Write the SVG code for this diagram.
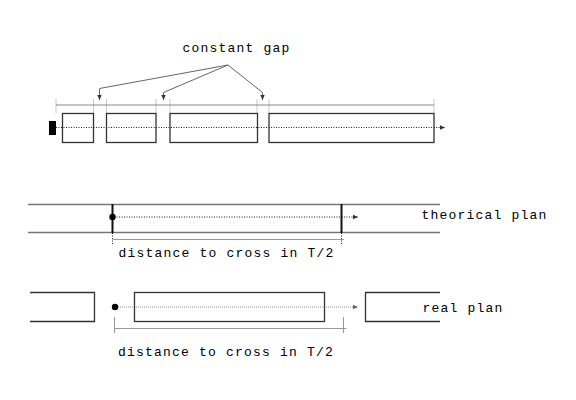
<svg xmlns="http://www.w3.org/2000/svg" width="576" height="400" viewBox="0 0 576 400">
<style>
.txt{font-family:"Liberation Mono","Courier New",monospace;font-size:13px;letter-spacing:1.2px;fill:#000}
.box{fill:none;stroke:#333;stroke-width:1.3}
.tick{stroke:#c8c8c8;stroke-width:1;fill:none}
.rail{stroke:#777;stroke-width:1.3;fill:none}
.grey{stroke:#999;stroke-width:1;fill:none}
.dot{stroke:#222;stroke-width:1;stroke-dasharray:1 1.5;fill:none}
.dotg{stroke:#888;stroke-width:1;stroke-dasharray:1 1;fill:none}
.lead{stroke:#666;stroke-width:1;fill:none}
.post{stroke:#111;stroke-width:2;fill:none}
</style>
<defs>
<marker id="ah" markerWidth="6" markerHeight="6" refX="5" refY="3" orient="auto" markerUnits="userSpaceOnUse">
<path d="M0,0.8 L5,3 L0,5.2 Z" fill="#333"/>
</marker>
<marker id="ahg" markerWidth="6" markerHeight="6" refX="5" refY="3" orient="auto" markerUnits="userSpaceOnUse">
<path d="M0,0.8 L5,3 L0,5.2 Z" fill="#666"/>
</marker>
<marker id="ahs" markerWidth="4" markerHeight="5" refX="2" refY="4" orient="auto" markerUnits="userSpaceOnUse">
<path d="M0.5,0 L3.5,0 L2,4 Z" fill="#444" transform="rotate(-90 2 2)"/>
</marker>
</defs>

<g id="top-section">
  <text class="txt" x="182.5" y="52">constant gap</text>
  <g id="ticks">
    <line class="tick" x1="56" y1="99" x2="56" y2="113"/>
    <line class="tick" x1="93.5" y1="99" x2="93.5" y2="113"/>
    <line class="tick" x1="106.5" y1="99" x2="106.5" y2="113"/>
    <line class="tick" x1="156" y1="99" x2="156" y2="113"/>
    <line class="tick" x1="170" y1="99" x2="170" y2="113"/>
    <line class="tick" x1="257" y1="99" x2="257" y2="113"/>
    <line class="tick" x1="269" y1="99" x2="269" y2="113"/>
    <line class="tick" x1="434" y1="99" x2="434" y2="113"/>
  </g>
  <line class="lead" x1="56" y1="105" x2="434" y2="105" style="stroke:#888"/>
  <rect id="start-block" x="49" y="121" width="7" height="14" fill="#000"/>
  <rect id="box1" class="box" x="62.5" y="113.5" width="31" height="29"/>
  <rect id="box2" class="box" x="106.5" y="113.5" width="49.5" height="29"/>
  <rect id="box3" class="box" x="170" y="113.5" width="87.5" height="29"/>
  <rect id="box4" class="box" x="269" y="113.5" width="165" height="29"/>
</g>

<g id="connectors">
  <polyline class="lead" points="228,65 99.5,88.5 99.5,100" marker-end="url(#ah)"/>
  <polyline class="lead" points="228,65 163.5,92.5 163.5,100" marker-end="url(#ah)"/>
  <polyline class="lead" points="228,65 262.5,92.5 262.5,100" marker-end="url(#ah)"/>
  <line class="dot" x1="56" y1="127.5" x2="445" y2="127.5" marker-end="url(#ah)"/>
  <line class="dot" x1="114" y1="217" x2="358" y2="217" marker-end="url(#ah)"/>
  <line class="dotg" x1="118" y1="307" x2="358" y2="307" marker-end="url(#ahg)"/>
</g>

<g id="theorical-plan">
  <line class="rail" x1="28" y1="204.5" x2="440" y2="204.5"/>
  <line class="rail" x1="28" y1="232.5" x2="440" y2="232.5"/>
  <line class="post" x1="112.5" y1="204" x2="112.5" y2="233"/>
  <line class="post" x1="341.5" y1="204" x2="341.5" y2="233"/>
  <circle cx="112.5" cy="217" r="3.2" fill="#000"/>
  <line class="dot" x1="112.5" y1="233" x2="112.5" y2="244"/>
  <line class="dot" x1="341.5" y1="233" x2="341.5" y2="244"/>
  <line class="grey" x1="112.5" y1="239.5" x2="344" y2="239.5"/>
  <text class="txt" x="118.5" y="257">distance to cross in T/2</text>
  <text class="txt" x="421.5" y="219">theorical plan</text>
</g>

<g id="real-plan">
  <polyline class="box" points="30,292.5 94.5,292.5 94.5,321.5 30,321.5"/>
  <rect class="box" x="134.5" y="292.5" width="190" height="29"/>
  <polyline class="box" points="440,292.5 365.5,292.5 365.5,321.5 440,321.5"/>
  <circle cx="115" cy="307" r="3.2" fill="#000"/>
  <line class="grey" x1="114.5" y1="317" x2="114.5" y2="333"/>
  <line class="grey" x1="343.5" y1="317" x2="343.5" y2="333"/>
  <line class="grey" x1="114.5" y1="328.5" x2="346.5" y2="328.5"/>
  <text class="txt" x="118" y="356">distance to cross in T/2</text>
  <text class="txt" x="422.5" y="312">real plan</text>
</g>
</svg>
